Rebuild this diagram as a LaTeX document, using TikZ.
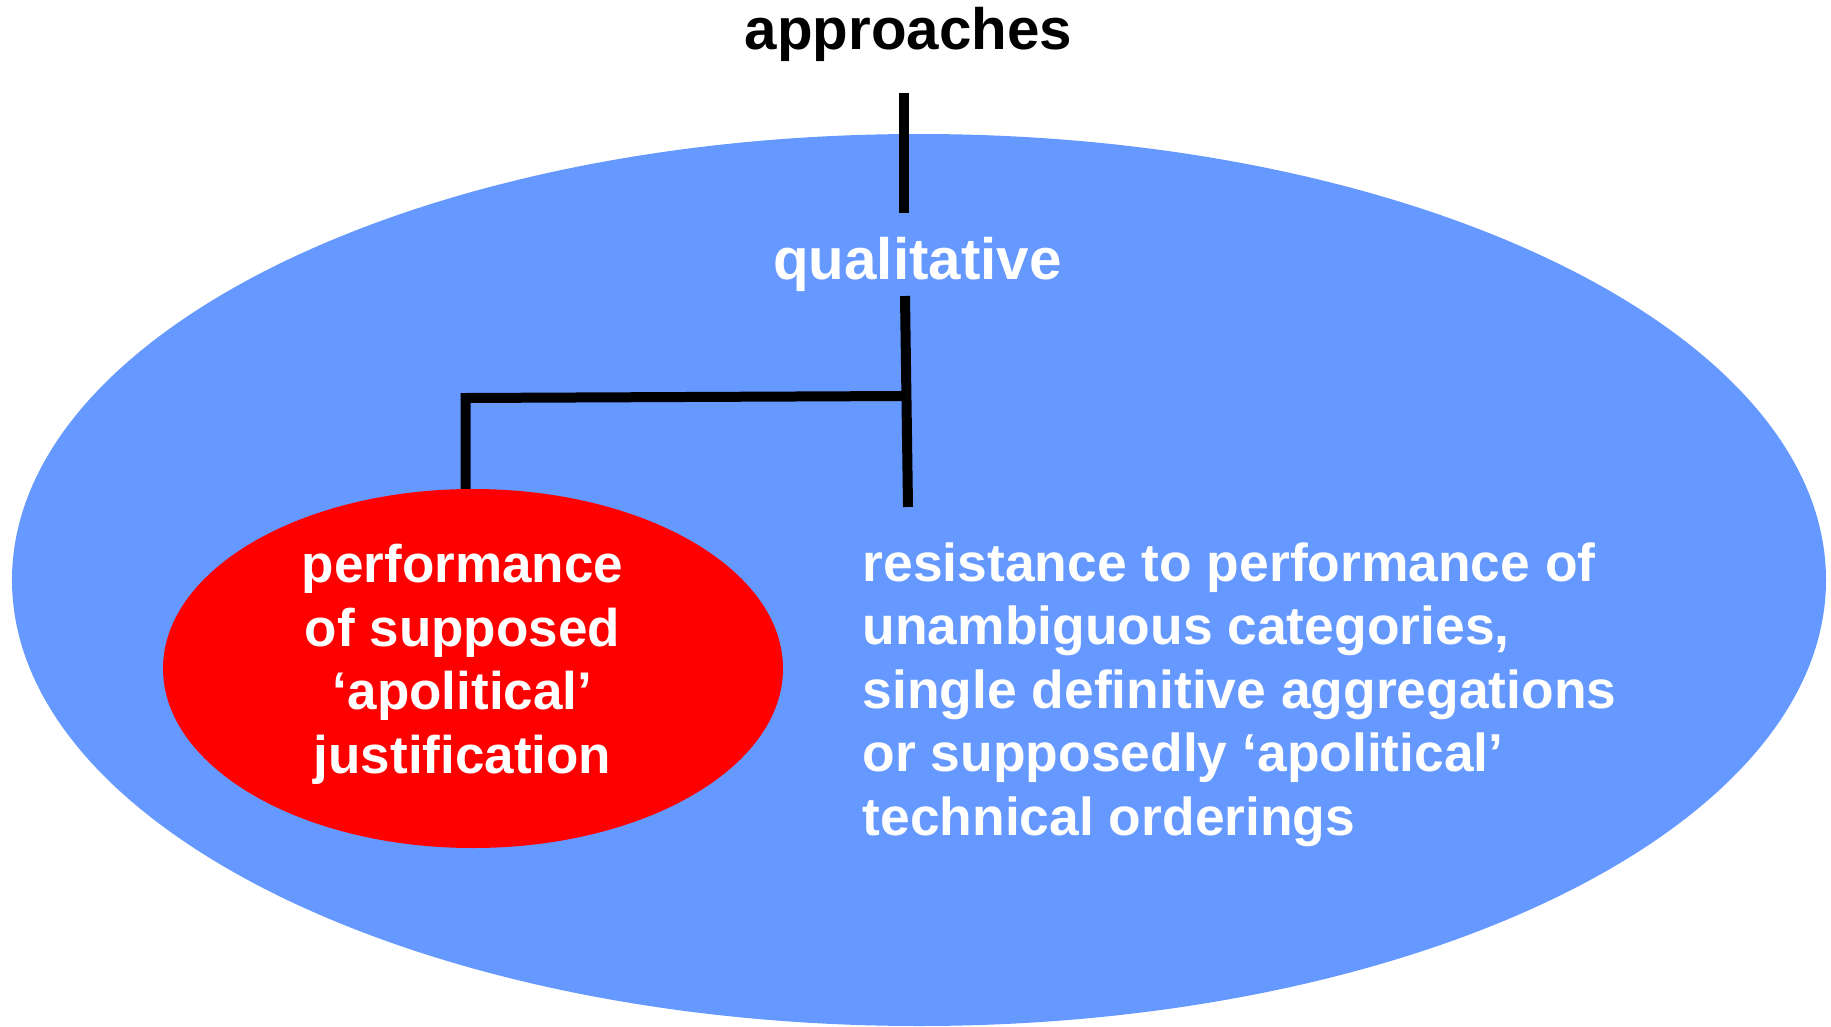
\documentclass[tikz,border=0pt]{standalone}
\usepackage{fontspec}
\setmainfont{Liberation Sans}
\usetikzlibrary{shapes.geometric}
\definecolor{outerblue}{RGB}{102,153,255}
\definecolor{innerred}{RGB}{255,0,0}
\tikzset{
  bigtitle/.style={inner sep=0pt, anchor=base, font=\fontsize{58.3}{70}\selectfont\bfseries},
  bodytext/.style={inner sep=0pt, text=white, font=\fontsize{53}{63.5}\selectfont\bfseries},
  bar/.style={line width=10pt, draw=black},
}
\begin{document}
\begin{tikzpicture}[x=1pt,y=-1pt]
\useasboundingbox (0,0) rectangle (1831,1027);
\node[ellipse, fill=outerblue, inner sep=0pt, minimum width=1814pt, minimum height=892pt] (outer) at (919,580) {};
\node[ellipse, fill=innerred, inner sep=0pt, minimum width=620pt, minimum height=359pt] (inner) at (473,668.5) {};
\node[bigtitle] (approaches) at (908.5,50) {approaches};
\node[bigtitle, text=white] (qualitative) at (917.5,279) {qualitative};
\node[bodytext, anchor=base, align=center] (perf) at (462.5,773) {performance\\of supposed\\‘apolitical’\\justification};
\node[bodytext, font=\fontsize{53.4}{63.5}\selectfont\bfseries, anchor=base west, align=left] (resist) at (862.5,835) {resistance to performance of\\unambiguous categories,\\single definitive aggregations\\or supposedly ‘apolitical’\\technical orderings};
\coordinate (a1) at (904,93);
\coordinate (a2) at (904,213);
\coordinate (q1) at (905,296);
\coordinate (q2) at (908,507);
\coordinate (j1) at (905,396);
\coordinate (j2) at (465.5,398);
\draw[bar] (a1) -- (a2);
\draw[bar] (q1) -- (q2);
\draw[bar] (j1) -- (j2) -- (j2 |- inner.north);
\end{tikzpicture}
\end{document}
